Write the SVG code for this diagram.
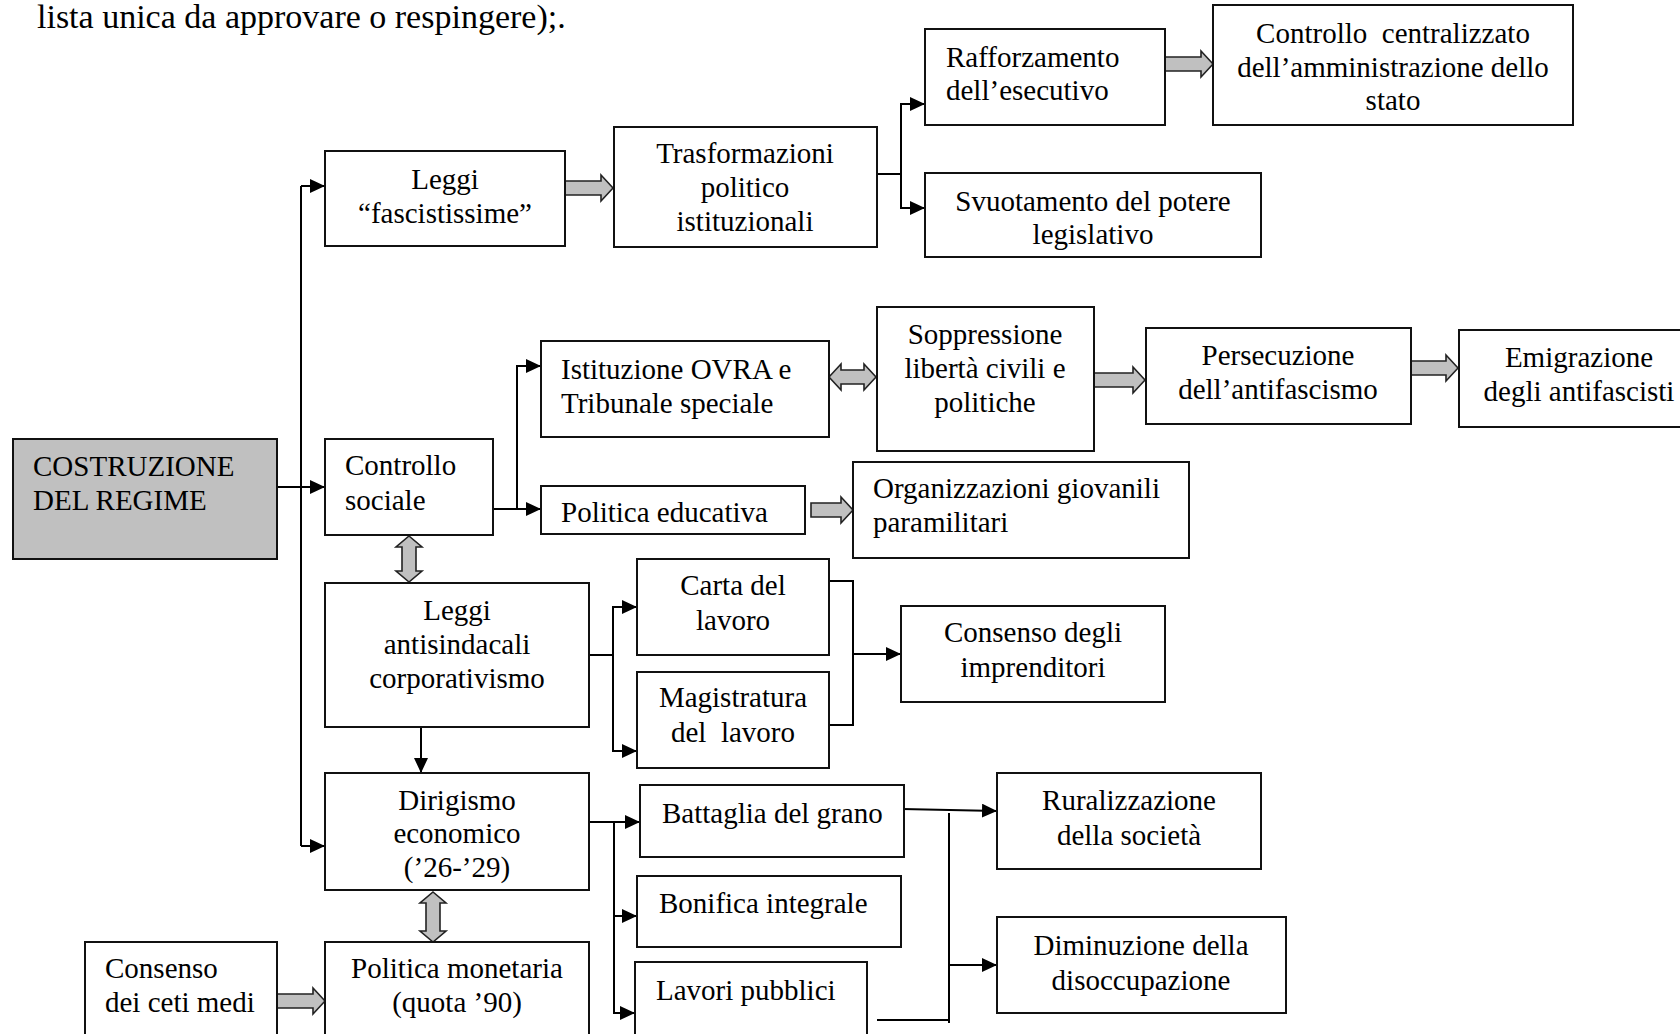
<svg xmlns="http://www.w3.org/2000/svg" width="1680" height="1034" viewBox="0 0 1680 1034">
<style>
text{font-family:"Liberation Serif","Times New Roman",serif;font-size:29px;fill:#000}
.c{text-anchor:middle}
.box{fill:#fff;stroke:#111;stroke-width:2}
.grey{fill:#c0c0c0;stroke:#111;stroke-width:2}
.ln{fill:none;stroke:#000;stroke-width:2}
.ga{fill:#c0c0c0;stroke:#222;stroke-width:1.6;stroke-linejoin:miter}
</style>
<defs>
<marker id="ah" viewBox="0 0 15 14" refX="15" refY="7" markerWidth="15" markerHeight="14" markerUnits="userSpaceOnUse" orient="auto"><path d="M0,0 L15,7 L0,14 z" fill="#000"/></marker>
<clipPath id="clipSv"><rect x="925" y="173" width="336" height="81"/></clipPath>
</defs>
<rect width="1680" height="1034" fill="#fff"/>
<text x="37" y="28" style="font-size:34px">lista unica da approvare o respingere);.</text>

<g id="connectors">
<!-- trunk -->
<path class="ln" d="M301,186 V846"/>
<path class="ln" d="M301,186 H325" marker-end="url(#ah)"/>
<path class="ln" d="M277,487 H325" marker-end="url(#ah)"/>
<path class="ln" d="M301,846 H325" marker-end="url(#ah)"/>
<!-- Trasformazioni branch -->
<path class="ln" d="M877,174 H901 M901,103 V209"/>
<path class="ln" d="M900,104 H925" marker-end="url(#ah)"/>
<path class="ln" d="M900,208 H925" marker-end="url(#ah)"/>
<!-- Controllo sociale branch -->
<path class="ln" d="M493,509 H517 M517,365 V510"/>
<path class="ln" d="M516,366 H541" marker-end="url(#ah)"/>
<path class="ln" d="M516,509 H541" marker-end="url(#ah)"/>
<!-- Leggi antisindacali branch -->
<path class="ln" d="M589,655 H613 M613,606 V752"/>
<path class="ln" d="M612,607 H637" marker-end="url(#ah)"/>
<path class="ln" d="M612,751 H637" marker-end="url(#ah)"/>
<!-- Carta / Magistratura to Consenso -->
<path class="ln" d="M829,581 H853 V725 H829"/>
<path class="ln" d="M853,654 H901" marker-end="url(#ah)"/>
<!-- Leggi antisindacali to Dirigismo -->
<path class="ln" d="M421,727 V773" marker-end="url(#ah)"/>
<!-- Dirigismo branch -->
<path class="ln" d="M589,822 H614 M614,821 V1014"/>
<path class="ln" d="M613,822 H640" marker-end="url(#ah)"/>
<path class="ln" d="M613,916 H637" marker-end="url(#ah)"/>
<path class="ln" d="M613,1013 H635" marker-end="url(#ah)"/>
<!-- Battaglia / Lavori to results -->
<path class="ln" d="M902,809 L997,811" marker-end="url(#ah)"/>
<path class="ln" d="M949,813 V1023 M877,1020 H950"/>
<path class="ln" d="M949,965 H997" marker-end="url(#ah)"/>
<!-- grey block arrows -->
<path class="ga" d="M565,181 H601 V175 L613,188 L601,201 V195 H565 Z"/>
<path class="ga" d="M1165,57 H1201 V51 L1213,64 L1201,77 V71 H1165 Z"/>
<path class="ga" d="M829,377 L841,364 V370 H864 V364 L876,377 L864,390 V384 H841 V390 Z"/>
<path class="ga" d="M1094,373 H1133 V367 L1145,380 L1133,393 V387 H1094 Z"/>
<path class="ga" d="M1411,361 H1446 V355 L1458,368 L1446,381 V375 H1411 Z"/>
<path class="ga" d="M811,503 H841 V497 L853,510 L841,523 V517 H811 Z"/>
<path class="ga" d="M409,536 L422,547 H416 V571 H422 L409,582 L396,571 H402 V547 H396 Z"/>
<path class="ga" d="M433,892 L446,903 H440 V931 H446 L433,942 L420,931 H426 V903 H420 Z"/>
<path class="ga" d="M277,994 H313 V988 L325,1001 L313,1014 V1008 H277 Z"/>
</g>

<g id="n-leggi-fasc"><rect class="box" x="325" y="151" width="240" height="95"/>
<text class="c" x="445" y="189">Leggi</text><text class="c" x="445" y="223">“fascistissime”</text></g>

<g id="n-trasf"><rect class="box" x="614" y="127" width="263" height="120"/>
<text class="c" x="745" y="163">Trasformazioni</text><text class="c" x="745" y="197">politico</text><text class="c" x="745" y="231">istituzionali</text></g>

<g id="n-raff"><rect class="box" x="925" y="29" width="240" height="96"/>
<text x="946" y="67">Rafforzamento</text><text x="946" y="100">dell’esecutivo</text></g>

<g id="n-contr-centr"><rect class="box" x="1213" y="5" width="360" height="120"/>
<text class="c" x="1393" y="43" xml:space="preserve">Controllo  centralizzato</text><text class="c" x="1393" y="77">dell’amministrazione dello</text><text class="c" x="1393" y="110">stato</text></g>

<g id="n-svuot"><rect class="box" x="925" y="173" width="336" height="84"/>
<g clip-path="url(#clipSv)"><text class="c" x="1093" y="211">Svuotamento del potere</text><text class="c" x="1093" y="244">legislativo</text></g></g>

<g id="n-costruzione"><rect class="grey" x="13" y="439" width="264" height="120"/>
<text x="33" y="476">COSTRUZIONE</text><text x="33" y="510">DEL REGIME</text></g>

<g id="n-controllo-sociale"><rect class="box" x="325" y="439" width="168" height="96"/>
<text x="345" y="475">Controllo</text><text x="345" y="510">sociale</text></g>

<g id="n-ovra"><rect class="box" x="541" y="341" width="288" height="96"/>
<text x="561" y="379">Istituzione OVRA e</text><text x="561" y="413">Tribunale speciale</text></g>

<g id="n-soppr"><rect class="box" x="877" y="307" width="217" height="144"/>
<text class="c" x="985" y="344">Soppressione</text><text class="c" x="985" y="378">libertà civili e</text><text class="c" x="985" y="412">politiche</text></g>

<g id="n-persec"><rect class="box" x="1146" y="328" width="265" height="96"/>
<text class="c" x="1278" y="365">Persecuzione</text><text class="c" x="1278" y="399">dell’antifascismo</text></g>

<g id="n-emigr"><rect class="box" x="1459" y="330" width="240" height="97"/>
<text class="c" x="1579" y="367">Emigrazione</text><text class="c" x="1579" y="401">degli antifascisti</text></g>

<g id="n-pol-edu"><rect class="box" x="541" y="486" width="264" height="48"/>
<text x="561" y="522">Politica educativa</text></g>

<g id="n-org-giov"><rect class="box" x="853" y="462" width="336" height="96"/>
<text x="873" y="498">Organizzazioni giovanili</text><text x="873" y="532">paramilitari</text></g>

<g id="n-leggi-antis"><rect class="box" x="325" y="583" width="264" height="144"/>
<text class="c" x="457" y="620">Leggi</text><text class="c" x="457" y="654">antisindacali</text><text class="c" x="457" y="688">corporativismo</text></g>

<g id="n-carta"><rect class="box" x="637" y="559" width="192" height="96"/>
<text class="c" x="733" y="595">Carta del</text><text class="c" x="733" y="630">lavoro</text></g>

<g id="n-magistr"><rect class="box" x="637" y="672" width="192" height="96"/>
<text class="c" x="733" y="707">Magistratura</text><text class="c" x="733" y="742" xml:space="preserve">del  lavoro</text></g>

<g id="n-cons-impr"><rect class="box" x="901" y="606" width="264" height="96"/>
<text class="c" x="1033" y="642">Consenso degli</text><text class="c" x="1033" y="677">imprenditori</text></g>

<g id="n-dirig"><rect class="box" x="325" y="773" width="264" height="117"/>
<text class="c" x="457" y="810">Dirigismo</text><text class="c" x="457" y="843">economico</text><text class="c" x="457" y="877">(’26-’29)</text></g>

<g id="n-battaglia"><rect class="box" x="640" y="785" width="264" height="72"/>
<text x="662" y="823">Battaglia del grano</text></g>

<g id="n-bonifica"><rect class="box" x="637" y="876" width="264" height="71"/>
<text x="659" y="913">Bonifica integrale</text></g>

<g id="n-lavori"><rect class="box" x="635" y="962" width="232" height="90"/>
<text x="656" y="1000">Lavori pubblici</text></g>

<g id="n-rural"><rect class="box" x="997" y="773" width="264" height="96"/>
<text class="c" x="1129" y="810">Ruralizzazione</text><text class="c" x="1129" y="845">della società</text></g>

<g id="n-dimin"><rect class="box" x="997" y="917" width="289" height="96"/>
<text class="c" x="1141" y="955">Diminuzione della</text><text class="c" x="1141" y="990">disoccupazione</text></g>

<g id="n-ceti"><rect class="box" x="85" y="942" width="192" height="110"/>
<text x="105" y="978">Consenso</text><text x="105" y="1012">dei ceti medi</text></g>

<g id="n-monet"><rect class="box" x="325" y="942" width="264" height="110"/>
<text class="c" x="457" y="978">Politica monetaria</text><text class="c" x="457" y="1012">(quota ’90)</text></g>
</svg>
